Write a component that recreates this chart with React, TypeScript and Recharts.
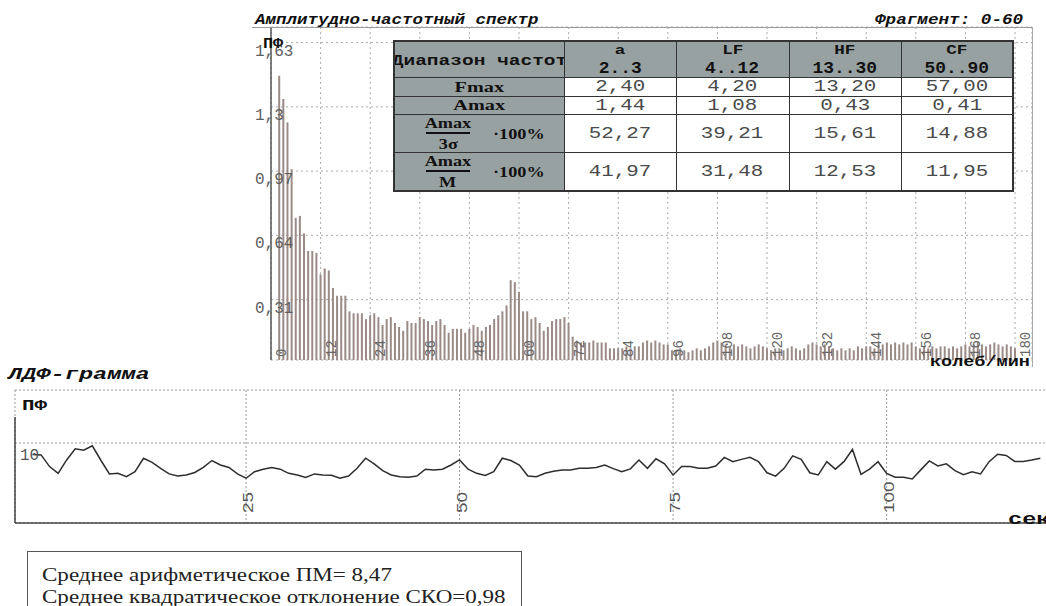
import React from 'react';
import { BarChart, Bar, LineChart, Line, XAxis, YAxis, CartesianGrid, ReferenceLine } from 'recharts';

const MONO = '"Liberation Mono", "Courier New", monospace';
const SERIF = '"Liberation Serif", "Times New Roman", serif';
const SANS = '"Liberation Sans", Arial, sans-serif';

// амплитудно-частотный спектр, 1..180 колеб/мин
const spectrumAmp = [
  0.0, 1.46, 1.34, 1.22, 0.98, 0.73, 0.74, 0.65, 0.56, 0.56,
  0.55, 0.44, 0.47, 0.46, 0.37, 0.33, 0.33, 0.33, 0.25, 0.24,
  0.24, 0.24, 0.21, 0.23, 0.24, 0.22, 0.18, 0.21, 0.22, 0.19,
  0.17, 0.15, 0.2, 0.19, 0.19, 0.22, 0.21, 0.2, 0.18, 0.2,
  0.21, 0.18, 0.14, 0.16, 0.16, 0.16, 0.14, 0.16, 0.18, 0.17,
  0.15, 0.17, 0.18, 0.21, 0.23, 0.25, 0.28, 0.41, 0.4, 0.35,
  0.25, 0.25, 0.21, 0.22, 0.19, 0.15, 0.17, 0.2, 0.21, 0.21,
  0.22, 0.19, 0.12, 0.1, 0.09, 0.09, 0.09, 0.1, 0.09, 0.09,
  0.09, 0.06, 0.06, 0.06, 0.06, 0.07, 0.06, 0.07, 0.07, 0.09,
  0.1, 0.09, 0.1, 0.09, 0.08, 0.08, 0.05, 0.05, 0.06, 0.05,
  0.04, 0.05, 0.06, 0.05, 0.06, 0.07, 0.09, 0.1, 0.09, 0.08,
  0.07, 0.08, 0.07, 0.08, 0.07, 0.06, 0.07, 0.08, 0.07, 0.06,
  0.05, 0.06, 0.06, 0.05, 0.06, 0.07, 0.06, 0.05, 0.06, 0.08,
  0.09, 0.08, 0.07, 0.08, 0.07, 0.06, 0.05, 0.06, 0.05, 0.06,
  0.05, 0.07, 0.06, 0.07, 0.07, 0.06, 0.08, 0.08, 0.09, 0.08,
  0.09, 0.08, 0.09, 0.08, 0.09, 0.07, 0.06, 0.07, 0.06, 0.07,
  0.06, 0.07, 0.07, 0.06, 0.07, 0.06, 0.07, 0.08, 0.07, 0.08,
  0.09, 0.08, 0.07, 0.08, 0.09, 0.08, 0.07, 0.08, 0.07, 0.06,
];
const freqTicks = [0, 12, 24, 36, 48, 60, 72, 84, 96, 108, 120, 132, 144, 156, 168, 180];
const ampTicks = [0, 0.31, 0.64, 0.97, 1.3, 1.63];

// ЛДФ-грамма, ПМ по секундам 0..118
const ldfValues = [
  9.2, 9.17, 8.36, 7.89, 8.82, 9.6, 9.5, 9.8, 8.8, 7.85,
  7.9, 7.66, 8.0, 8.94, 8.65, 8.24, 7.85, 7.7, 7.78, 7.95,
  8.3, 8.78, 8.47, 8.3, 7.85, 7.55, 8.0, 8.18, 8.3, 8.18,
  7.89, 7.78, 7.6, 7.85, 7.78, 7.75, 7.55, 7.7, 8.24, 8.94,
  8.55, 8.08, 7.78, 7.66, 7.62, 7.7, 8.18, 8.13, 8.18, 8.47,
  8.82, 8.18, 7.89, 7.75, 8.0, 8.94, 8.78, 8.47, 7.7, 7.66,
  7.89, 8.03, 8.13, 8.13, 8.24, 8.24, 8.3, 8.47, 8.22, 8.0,
  8.2, 8.82, 8.24, 8.9, 8.55, 7.78, 8.36, 8.36, 8.24, 8.24,
  8.4, 9.0, 8.7, 8.86, 9.0, 8.7, 7.93, 7.7, 8.24, 9.1,
  8.86, 7.93, 7.78, 8.7, 8.18, 8.7, 9.55, 7.82, 8.18, 8.7,
  7.89, 7.62, 7.62, 7.5, 8.13, 8.75, 8.4, 8.55, 8.08, 7.8,
  8.0, 7.85, 8.7, 9.22, 9.13, 8.72, 8.72, 8.82, 8.94,
];
const timeTicks = [25, 50, 75, 100];
const pfTicks = [10];

const bandNames = ['a', 'LF', 'HF', 'CF'];
const bandRanges = ['2..3', '4..12', '13..30', '50..90'];
const fmaxRow = ['2,40', '4,20', '13,20', '57,00'];
const amaxRow = ['1,44', '1,08', '0,43', '0,41'];
const sigmaRow = ['52,27', '39,21', '15,61', '14,88'];
const meanRow = ['41,97', '31,48', '12,53', '11,95'];

const spectrumData = spectrumAmp.map((a, i) => ({ f: i + 1, a }));
const ldfData = ldfValues.map((v, i) => ({ t: i, v }));

const GRAY = '#98a1a1';
const fmt = (v: number) => String(v).replace('.', ',');

const Label = ({ x, y, s = 1, style, children }: any) => (
  <div
    style={{
      position: 'absolute', left: x, top: y, whiteSpace: 'nowrap', lineHeight: 1,
      transform: `scaleX(${s})`, transformOrigin: 'left top', ...style,
    }}
  >
    {children}
  </div>
);

const Sx = ({ s, children }: any) => (
  <span style={{ display: 'inline-block', transform: `scaleX(${s})`, transformOrigin: 'center', whiteSpace: 'nowrap' }}>
    {children}
  </span>
);

const FreqTick = (props: any) => {
  const { x, y, payload } = props;
  return (
    <text transform={`translate(${x + 15},${y - 3}) rotate(-90)`} fontFamily={MONO} fontSize={14} fill="#666">
      {payload.value}
    </text>
  );
};

const AmpTick = (props: any) => {
  const { x, y, payload } = props;
  if (payload.value === 0) return null;
  return (
    <text x={x - 16} y={y + 13} fontFamily={MONO} fontSize={16} fill="#5e5e5e">
      {fmt(payload.value)}
    </text>
  );
};

const TimeTick = (props: any) => {
  const { x, y, payload } = props;
  return (
    <text transform={`translate(${x + 7},${y - 10}) rotate(-90) scale(1,0.75)`} fontFamily={SANS} fontSize={19} fill="#555">
      {payload.value}
    </text>
  );
};

const PfTick = (props: any) => {
  const { x, y, payload } = props;
  return (
    <text x={x + 5} y={y + 17} fontFamily={MONO} fontSize={16} fill="#555">
      {payload.value}
    </text>
  );
};

const cell: React.CSSProperties = {
  border: '1px solid #333', padding: 0, textAlign: 'center', overflow: 'hidden',
  fontFamily: MONO, fontSize: 16, color: '#4a4a4a', lineHeight: 1,
};
const grayCell: React.CSSProperties = { ...cell, background: GRAY, color: '#111', fontWeight: 'bold' };

const Fraction = ({ bottom }: { bottom: string }) => (
  <div style={{ display: 'flex', alignItems: 'center', paddingLeft: 30, fontFamily: SERIF, fontWeight: 'bold', color: '#111' }}>
    <div style={{ display: 'flex', flexDirection: 'column', alignItems: 'center', width: 46 }}>
      <Sx s={1.3}><span style={{ fontSize: 14 }}>Amax</span></Sx>
      <div style={{ width: 44, height: 2, background: '#111', margin: '1px 0 2px' }} />
      <Sx s={1.3}><span style={{ fontSize: 14 }}>{bottom}</span></Sx>
    </div>
    <div style={{ marginLeft: 28 }}>
      <Sx s={1.3}><span style={{ fontSize: 14 }}>·100%</span></Sx>
    </div>
  </div>
);

const SpectrumTable = () => (
  <table
    style={{
      position: 'absolute', left: 393, top: 40, width: 619, borderCollapse: 'collapse',
      tableLayout: 'fixed', border: '2px solid #333', background: '#fff',
    }}
  >
    <colgroup>
      <col style={{ width: 170 }} />
      <col style={{ width: 112 }} />
      <col style={{ width: 113 }} />
      <col style={{ width: 112 }} />
      <col style={{ width: 112 }} />
    </colgroup>
    <tbody>
      <tr style={{ height: 36 }}>
        <td style={grayCell}>
          <div style={{ display: 'flex', justifyContent: 'center', overflow: 'hidden', paddingTop: 2 }}>
            <Sx s={1.3}><span style={{ fontSize: 15 }}>Диапазон частот</span></Sx>
          </div>
        </td>
        {bandNames.map((b, i) => (
          <td key={b} style={grayCell}>
            <div><Sx s={1.35}><span style={{ fontSize: 13 }}>{b}</span></Sx></div>
            <div style={{ marginTop: 3 }}><Sx s={1.12}><span style={{ fontSize: 16 }}>{bandRanges[i]}</span></Sx></div>
          </td>
        ))}
      </tr>
      <tr style={{ height: 19 }}>
        <td style={{ ...grayCell, fontFamily: SERIF, fontSize: 15 }}><Sx s={1.35}>Fmax</Sx></td>
        {fmaxRow.map((v, i) => <td key={i} style={cell}><Sx s={1.3}>{v}</Sx></td>)}
      </tr>
      <tr style={{ height: 18 }}>
        <td style={{ ...grayCell, fontFamily: SERIF, fontSize: 15 }}><Sx s={1.35}>Amax</Sx></td>
        {amaxRow.map((v, i) => <td key={i} style={cell}><Sx s={1.3}>{v}</Sx></td>)}
      </tr>
      <tr style={{ height: 38 }}>
        <td style={grayCell}><Fraction bottom="3σ" /></td>
        {sigmaRow.map((v, i) => <td key={i} style={cell}><Sx s={1.3}>{v}</Sx></td>)}
      </tr>
      <tr style={{ height: 37 }}>
        <td style={grayCell}><Fraction bottom="M" /></td>
        {meanRow.map((v, i) => <td key={i} style={cell}><Sx s={1.3}>{v}</Sx></td>)}
      </tr>
    </tbody>
  </table>
);

export default function App() {
  return (
    <div style={{ position: 'fixed', left: 0, top: 0, width: 1046, height: 606, overflow: 'hidden', background: '#fff' }}>
      {/* спектр */}
      <div style={{ position: 'absolute', left: 0, top: 0 }}>
        <BarChart width={1046} height={372} data={spectrumData} margin={{ top: 27, right: 14, bottom: 11, left: 270 }}>
          <CartesianGrid stroke="#aaa" strokeDasharray="2 3" />
          <XAxis
            type="number" dataKey="f" domain={[0, 184.1]} ticks={freqTicks} interval={0} allowDataOverflow
            height={1} tickSize={0} tickMargin={0} axisLine={false} tick={<FreqTick />}
          />
          <YAxis
            type="number" domain={[0, 1.71]} ticks={ampTicks} interval={0} allowDataOverflow
            width={1} tickSize={0} tickMargin={0} axisLine={{ stroke: '#555', strokeWidth: 1.5 }} tick={<AmpTick />}
          />
          <Bar dataKey="a" fill="#9a8b86" barSize={2} isAnimationActive={false} />
        </BarChart>
      </div>
      <div style={{ position: 'absolute', left: 252, top: 27, width: 780, height: 1, background: '#999' }} />
      <div style={{ position: 'absolute', left: 1032, top: 27, width: 1, height: 340, background: '#aaa' }} />
      <Label x={255} y={13} s={1.25} style={{ fontFamily: MONO, fontSize: 14, fontWeight: 'bold', fontStyle: 'italic', color: '#111' }}>
        Амплитудно-частотный спектр
      </Label>
      <Label x={875} y={13} s={1.26} style={{ fontFamily: MONO, fontSize: 14, fontWeight: 'bold', fontStyle: 'italic', color: '#111' }}>
        Фрагмент: 0-60
      </Label>
      <Label x={263} y={37} s={1.2} style={{ fontFamily: MONO, fontSize: 14, fontWeight: 'bold', color: '#111' }}>
        ПФ
      </Label>
      <Label x={930} y={355} s={1.32} style={{ fontFamily: MONO, fontSize: 14, fontWeight: 'bold', color: '#111' }}>
        колеб/мин
      </Label>
      <SpectrumTable />

      {/* ЛДФ-грамма */}
      <Label x={8} y={366} s={1.39} style={{ fontFamily: MONO, fontSize: 17, fontWeight: 'bold', fontStyle: 'italic', color: '#111' }}>
        ЛДФ-грамма
      </Label>
      <Label x={22} y={399} s={1.49} style={{ fontFamily: MONO, fontSize: 14, fontWeight: 'bold', color: '#111' }}>
        ПФ
      </Label>
      <div style={{ position: 'absolute', left: 0, top: 380 }}>
        <LineChart width={1070} height={150} data={ldfData} margin={{ top: 10, right: 10, bottom: 6, left: 14 }}>
          <CartesianGrid stroke="#999" strokeDasharray="2 2" />
          <XAxis
            type="number" dataKey="t" domain={[-2.05, 120.3]} ticks={timeTicks} interval={0} allowDataOverflow
            height={1} tickSize={0} tickMargin={0} axisLine={{ stroke: '#444', strokeWidth: 1.5 }} tick={<TimeTick />}
          />
          <YAxis
            type="number" domain={[4.44, 13.68]} ticks={pfTicks} interval={0} allowDataOverflow
            width={1} tickSize={0} tickMargin={0} axisLine={false} tick={<PfTick />}
          />
          <ReferenceLine segment={[{ x: -2.05, y: 4.44 }, { x: -2.05, y: 11.8 }]} stroke="#444" strokeWidth={1.5} />
          <Line type="linear" dataKey="v" stroke="#2e2e2e" strokeWidth={1.5} dot={false} isAnimationActive={false} />
        </LineChart>
      </div>
      <Label x={1008} y={511} s={1.39} style={{ fontFamily: MONO, fontSize: 17, fontWeight: 'bold', color: '#111' }}>
        сек
      </Label>

      {/* статистика */}
      <div
        style={{
          position: 'absolute', left: 27, top: 551, width: 495, height: 80,
          border: '1px solid #555', boxSizing: 'border-box',
        }}
      />
      <Label x={42} y={566} s={1.28} style={{ fontFamily: SERIF, fontSize: 18, color: '#222' }}>
        Среднее арифметическое ПМ= 8,47
      </Label>
      <Label x={42} y={588} s={1.28} style={{ fontFamily: SERIF, fontSize: 18, color: '#222' }}>
        Среднее квадратическое отклонение СКО=0,98
      </Label>
    </div>
  );
}
